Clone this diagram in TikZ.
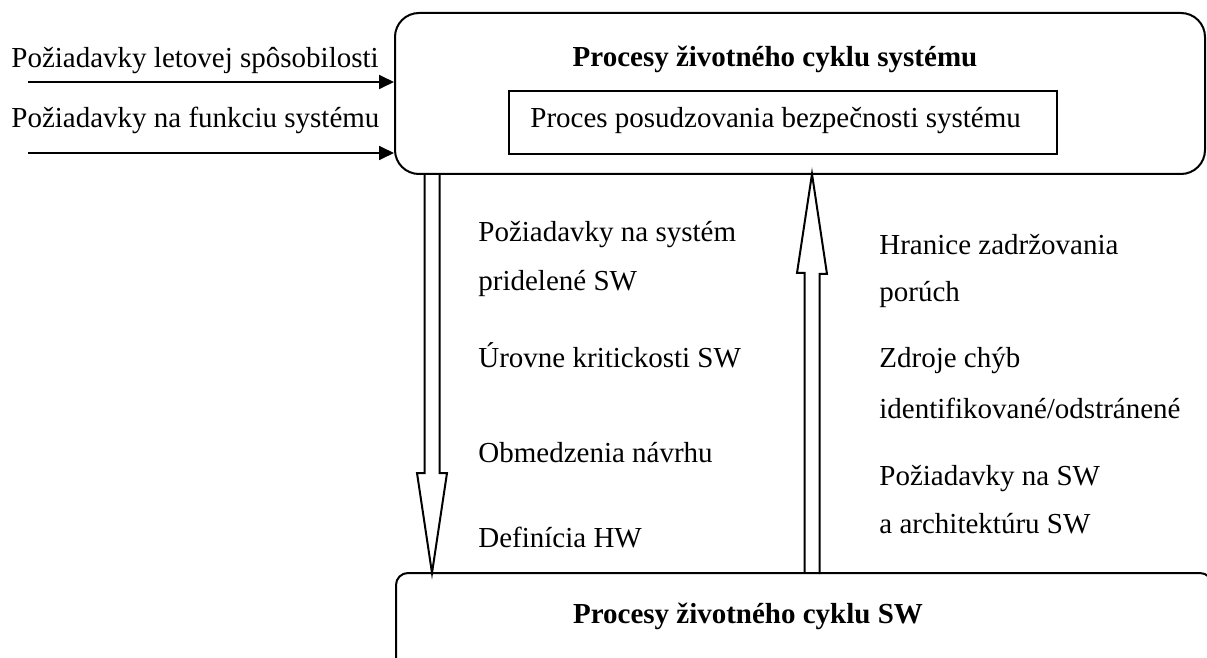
\documentclass[tikz,border=0pt]{standalone}
\usepackage{fontspec}
\setmainfont{Liberation Serif}
\usetikzlibrary{arrows.meta}

\tikzset{
    proceso/.style={draw, line width=1pt, inner sep=0pt},
    texto/.style={anchor=base west, inner sep=0pt},
    flecha/.style={line width=0.9pt, -{Triangle[length=7.5pt,width=7pt]}},
    hueca/.style={line width=1pt, line join=miter},
}

\begin{document}
\begin{tikzpicture}[x=0.5pt, y=-0.5pt, font=\fontsize{14.5}{17}\selectfont]

    \useasboundingbox (0,0) rectangle (1207,658);
    \clip (0,0) rectangle (1207,658);

    % Procesos del sistema
        \node[proceso, rounded corners=12pt, minimum width=405pt, minimum height=80.5pt] (sistema) at (800,93.5) {};
        \node[anchor=base] (titulo) at (775,67) {\textbf{Procesy životného cyklu systému}};

        \node[proceso, minimum width=274pt, minimum height=31.5pt] (bezpecnost) at (783,122.5) {};
        \node[texto] (bezpecnostT) at (530,128) {Proces posudzovania bezpečnosti systému};

    % Entradas
        \coordinate (e1) at (28,82);
        \coordinate (e2) at (28,153);
        \draw[flecha] (e1) -- (e1 -| sistema.west);
        \draw[flecha] (e2) -- (e2 -| sistema.west);

        \node[texto] (req1) at (11,68) {Požiadavky letovej spôsobilosti};
        \node[texto] (req2) at (11,128) {Požiadavky na funkciu systému};

    % Procesos SW
        \node[proceso, rounded corners=6pt, minimum width=408pt, minimum height=60pt] (software) at (804,633) {};
        \node[anchor=base] (tituloSW) at (748,623) {\textbf{Procesy životného cyklu SW}};

    % Flecha hacia abajo
        \coordinate (bajoA) at (432,174);
        \coordinate (bajoB) at (432,573);
        \draw[hueca] (bajoA) ++(-7.5,0) -- ++(0,299) -- ++(-7.5,0) -- (bajoB)
            -- ++(15,-100) -- ++(-7.5,0) -- ++(0,-299);

        \node[texto] (baja1) at (478,242) {Požiadavky na systém};
        \node[texto] (baja2) at (478,291) {pridelené SW};
        \node[texto] (baja3) at (478,368) {Úrovne kritickosti SW};
        \node[texto] (baja4) at (478,462) {Obmedzenia návrhu};
        \node[texto] (baja5) at (478,547) {Definícia HW};

    % Flecha hacia arriba
        \coordinate (subeA) at (812,573);
        \coordinate (subeB) at (812,174);
        \draw[hueca] (subeA) ++(-7.5,0) -- ++(0,-300) -- ++(-7.5,0) -- (subeB)
            -- ++(15,100) -- ++(-7.5,0) -- ++(0,300);

        \node[texto] (sube1) at (879,255) {Hranice zadržovania};
        \node[texto] (sube2) at (879,302) {porúch};
        \node[texto] (sube3) at (879,368) {Zdroje chýb};
        \node[texto] (sube4) at (879,418) {identifikované/odstránené};
        \node[texto] (sube5) at (879,485) {Požiadavky na SW};
        \node[texto] (sube6) at (879,533) {a architektúru SW};

\end{tikzpicture}
\end{document}
